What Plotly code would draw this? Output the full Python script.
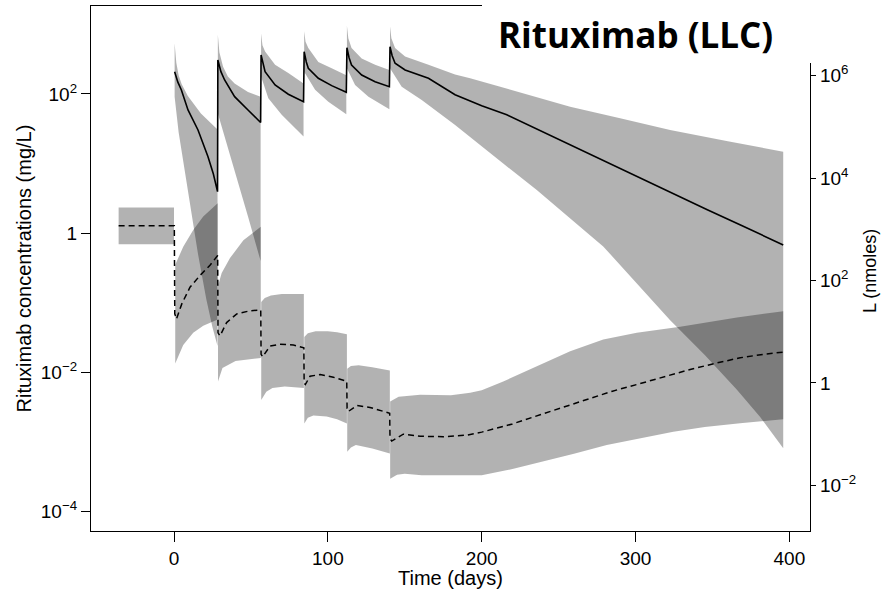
import numpy as np
import plotly.graph_objects as go

# ---------------- axis ticks ----------------
x_tickvals = [0, 100, 200, 300, 400]
left_tickvals = [1e-4, 1e-2, 1, 1e2]
left_ticktext = ["10<sup>−4</sup>", "10<sup>−2</sup>", "1", "10<sup>2</sup>"]
right_tickvals = [1e-2, 1, 1e2, 1e4, 1e6]
right_ticktext = ["10<sup>−2</sup>", "1", "10<sup>2</sup>", "10<sup>4</sup>", "10<sup>6</sup>"]

# ---------------- Rituximab (left axis, mg/L), values read as log10 ----------------
ritux_med_t = [0.4, 2.5, 4.8, 9.1, 15.6, 22.1, 25.6, 28.3,
               28.5, 30.5, 32.9, 39.4, 48.1, 56.3,
               56.6, 58, 59.2, 65.7, 74.3, 84.2,
               84.6, 86, 87.3, 93.8, 102.5, 112,
               112.4, 113.8, 115.4, 122, 130.7, 140,
               140.4, 141.8, 143.7, 150.2, 165.4, 182.7, 200, 216.3, 240, 259.6,
               280, 303, 325, 346.3, 370, 396]
ritux_med_log10 = [2.32, 2.17, 2.057, 1.77, 1.483, 1.099, 0.85, 0.597,
                   2.489, 2.32, 2.201, 1.961, 1.77, 1.59,
                   2.56, 2.42, 2.32, 2.129, 1.996, 1.889,
                   2.608, 2.46, 2.369, 2.226, 2.12, 2.024,
                   2.665, 2.52, 2.417, 2.273, 2.177, 2.105,
                   2.68, 2.55, 2.441, 2.345, 2.226, 1.99, 1.83, 1.70, 1.45, 1.245,
                   1.03, 0.79, 0.56, 0.34, 0.10, -0.17]

# ribbon per dosing interval (upper and lower edges)
ritux_up_t = [
    [0.4, 1.5, 3, 5, 9, 17.5, 28.3],
    [28.5, 29.5, 31.9, 35, 39.4, 48.1, 56.3],
    [56.6, 57.5, 59.2, 65.7, 74.3, 84.2],
    [84.6, 85.5, 87.3, 93.8, 102.5, 112],
    [112.4, 113.3, 115.4, 122, 130.7, 140],
    [140.4, 141.3, 143.7, 150.2, 165.4, 182.7, 192.5, 225, 257.5, 290, 322.5, 360, 396],
]
ritux_up_log10 = [
    [2.73, 2.45, 2.27, 2.14, 1.97, 1.72, 1.49],
    [2.85, 2.60, 2.39, 2.25, 2.15, 2.03, 1.96],
    [2.87, 2.70, 2.61, 2.42, 2.30, 2.15],
    [2.90, 2.75, 2.66, 2.46, 2.37, 2.27],
    [2.98, 2.80, 2.66, 2.51, 2.42, 2.345],
    [2.97, 2.80, 2.66, 2.54, 2.42, 2.28, 2.226, 2.02, 1.818, 1.65, 1.483, 1.32, 1.17],
]
ritux_lo_t = [
    [0.4, 3, 6.9, 11.3, 15.6, 21, 25, 28.3],
    [28.5, 39.4, 48.1, 56.3],
    [56.6, 61.3, 70, 84.2],
    [84.6, 91.7, 100.3, 112],
    [112.4, 117.7, 126.4, 140],
    [140.4, 148, 161, 182.7, 192.5, 214, 235.8, 257, 279, 300, 322.5, 345, 365.9, 381, 396],
]
ritux_lo_log10 = [
    [1.96, 1.45, 0.91, 0.30, -0.30, -0.95, -1.35, -1.62],
    [1.72, 0.91, 0.24, -0.40],
    [2.25, 1.94, 1.70, 1.39],
    [2.32, 2.06, 1.89, 1.71],
    [2.37, 2.13, 1.96, 1.78],
    [2.37, 2.105, 1.914, 1.555, 1.39, 1.00, 0.62, 0.22, -0.19, -0.70, -1.25, -1.75, -2.25, -2.64, -3.09],
]

# ---------------- L (right axis, nmoles), values read as log10 ----------------
L_med_t = [-36, 0.2, 0.5, 1.6, 5, 10.4, 16.9, 23.4, 28.4,
           28.6, 29.9, 34.2, 40.8, 49.4, 56.4,
           56.6, 57.6, 62.4, 68.9, 77.6, 84.4,
           84.6, 85.4, 88.4, 95, 103.6, 112.3,
           112.5, 113.3, 118.8, 127.4, 140.2,
           140.4, 141.5, 149, 160, 175, 190, 200, 220, 238, 255, 270.5, 285,
           300.8, 318, 335.5, 352, 368, 383, 396]
L_med_log10 = [3.07, 3.07, 1.35, 1.25, 1.54, 1.87, 2.10, 2.30, 2.49,
               0.98, 0.92, 1.18, 1.35, 1.41, 1.425,
               0.56, 0.51, 0.72, 0.756, 0.742, 0.689,
               0.0, -0.03, 0.132, 0.165, 0.112, 0.033,
               -0.50, -0.557, -0.44, -0.478, -0.59,
               -1.08, -1.134, -1.00, -1.04, -1.05, -1.02, -0.96, -0.80, -0.62, -0.45, -0.295, -0.16,
               -0.03, 0.12, 0.264, 0.385, 0.492, 0.56, 0.604]

L_up_t = [
    [-36, 0],
    [0.8, 3, 6, 12.5, 19, 28.4],
    [28.6, 31, 36.4, 45.1, 56.4],
    [56.7, 59, 63, 70, 84.4],
    [84.7, 87, 92, 100, 106, 112.4],
    [112.6, 115, 120, 128.9, 140.3],
    [140.5, 146, 160, 180, 192.5, 200, 214, 235.8, 257.5, 279, 300.8, 329, 365.9, 396],
]
L_up_log10 = [
    [3.425, 3.425],
    [2.31, 2.47, 2.66, 2.99, 3.25, 3.51],
    [1.90, 2.15, 2.44, 2.79, 3.05],
    [1.58, 1.66, 1.71, 1.74, 1.74],
    [0.90, 0.97, 1.01, 1.01, 0.99, 0.953],
    [0.28, 0.33, 0.348, 0.309, 0.244],
    [-0.36, -0.27, -0.23, -0.24, -0.19, -0.14, 0.03, 0.33, 0.62, 0.85, 0.98, 1.10, 1.28, 1.40],
]
L_lo_t = [
    [-36, 0],
    [0.8, 3, 6, 12.5, 19, 28.4],
    [28.6, 31.5, 40, 56.4],
    [56.7, 60, 64, 72, 84.4],
    [84.7, 87, 90.6, 99.2, 106, 112.4],
    [112.6, 115, 118.2, 128.9, 140.3],
    [140.5, 145, 150, 161, 173, 200, 220, 238, 260, 281.3, 303, 324.6, 345, 368, 396],
]
L_lo_log10 = [
    [2.71, 2.71],
    [0.38, 0.55, 0.74, 0.98, 1.12, 1.24],
    [0.03, 0.295, 0.43, 0.49],
    [-0.33, -0.17, -0.10, -0.07, -0.10],
    [-0.79, -0.68, -0.636, -0.656, -0.71, -0.79],
    [-1.344, -1.26, -1.213, -1.28, -1.378],
    [-1.87, -1.79, -1.772, -1.80, -1.81, -1.80, -1.68, -1.54, -1.38, -1.213, -1.08, -0.951, -0.86, -0.787, -0.709],
]

BAND = "rgba(0,0,0,0.30)"
FONT = "Liberation Sans, Arial, sans-serif"


def band_trace(t_up, v_up, t_lo, v_lo, yaxis):
    xs = list(t_up) + list(t_lo)[::-1]
    ys = list(10.0 ** np.array(v_up)) + list(10.0 ** np.array(v_lo))[::-1]
    return go.Scatter(x=xs, y=ys, mode="lines", fill="toself", fillcolor=BAND,
                      line=dict(width=0), hoverinfo="skip", yaxis=yaxis)


fig = go.Figure()

for tu, vu, tl, vl in zip(ritux_up_t, ritux_up_log10, ritux_lo_t, ritux_lo_log10):
    fig.add_trace(band_trace(tu, vu, tl, vl, "y"))

fig.add_trace(go.Scatter(x=ritux_med_t, y=10.0 ** np.array(ritux_med_log10), mode="lines",
                         line=dict(color="black", width=1.6), yaxis="y"))

for tu, vu, tl, vl in zip(L_up_t, L_up_log10, L_lo_t, L_lo_log10):
    fig.add_trace(band_trace(tu, vu, tl, vl, "y2"))

fig.add_trace(go.Scatter(x=L_med_t, y=10.0 ** np.array(L_med_log10), mode="lines",
                         line=dict(color="black", width=1.5, dash="6px,4px"), yaxis="y2"))

# plot area in pixels: x 91..810, y 6..531
L_PX, R_PX, T_PX, B_PX = 91, 810, 6, 531
W_PX, H_PX = R_PX - L_PX, B_PX - T_PX


def px(xp):
    return (xp - L_PX) / W_PX


def py(yp):
    return (B_PX - yp) / H_PX


TICKFONT = dict(family=FONT, size=19, color="black")

fig.update_layout(
    width=882, height=592,
    margin=dict(l=L_PX, r=882 - R_PX, t=T_PX, b=592 - B_PX),
    paper_bgcolor="white", plot_bgcolor="white",
    showlegend=False,
    xaxis=dict(range=[-53.95, 413.4], tickvals=x_tickvals, ticks="outside", ticklen=10,
               tickwidth=1.2, tickcolor="black", showline=True, linecolor="black", linewidth=1.3,
               mirror=True, showgrid=False, zeroline=False, tickfont=TICKFONT),
    yaxis=dict(type="log", range=[-4.279, 3.264], tickvals=left_tickvals, ticktext=left_ticktext,
               ticks="outside", ticklen=9, tickwidth=1.2, tickcolor="black",
               showline=True, linecolor="black", linewidth=1.3, mirror=True,
               showgrid=False, zeroline=False, tickfont=TICKFONT),
    yaxis2=dict(type="log", overlaying="y", side="right", range=[-2.891, 7.363],
                tickvals=right_tickvals, ticktext=right_ticktext,
                ticks="outside", ticklen=5, tickwidth=1.2, tickcolor="black",
                showline=True, linecolor="black", linewidth=1.3,
                showgrid=False, zeroline=False, tickfont=TICKFONT),
    shapes=[dict(type="rect", xref="paper", yref="paper", x0=px(482), x1=px(900),
                 y0=py(63), y1=py(-10), fillcolor="white", line=dict(width=0), layer="above")],
    annotations=[
        dict(text="<b>Rituximab (LLC)</b>", xref="paper", yref="paper", x=px(635), y=py(35),
             xanchor="center", yanchor="middle", showarrow=False,
             font=dict(family="Open Sans", size=35, color="black")),
        dict(text="Time (days)", xref="paper", yref="paper", x=px(450.5), y=py(578),
             xanchor="center", yanchor="middle", showarrow=False,
             font=dict(family=FONT, size=20, color="black")),
        dict(text="Rituximab concentrations (mg/L)", xref="paper", yref="paper", x=px(23.5), y=py(269),
             xanchor="center", yanchor="middle", showarrow=False, textangle=-90,
             font=dict(family=FONT, size=20, color="black")),
        dict(text="L (nmoles)", xref="paper", yref="paper", x=px(870), y=py(271),
             xanchor="center", yanchor="middle", showarrow=False, textangle=-90,
             font=dict(family=FONT, size=18, color="black")),
    ],
)

fig.write_html("out.html")
